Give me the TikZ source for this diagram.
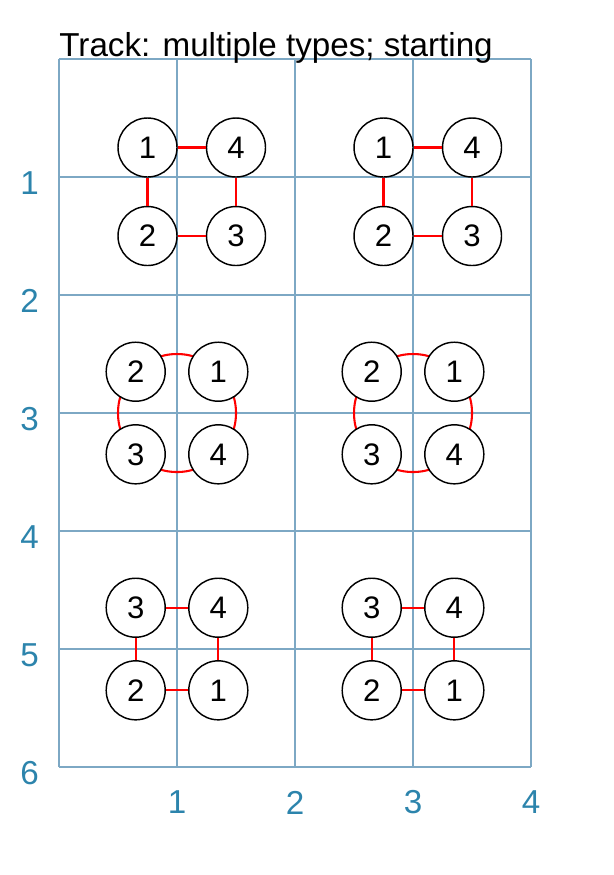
\documentclass[tikz,border=0pt]{standalone}
\usepackage{fontspec}
\setmainfont{Liberation Sans}
\usepackage{xcolor}
\usetikzlibrary{positioning}

\definecolor{gridblue}{RGB}{125,168,196}
\definecolor{axisblue}{RGB}{44,132,172}

\tikzset{
	stone/.style={circle,draw,fill=white,line width=0.7pt,minimum size=1cm,inner sep=0pt,font=\fontsize{15}{15}\selectfont},
	track/.style={red,line width=1pt},
	axislab/.style={text=axisblue,font=\fontsize{16}{16}\selectfont}
}

\begin{document}
\begin{tikzpicture}[scale=2]
	\useasboundingbox (-0.5,0.5) rectangle (4.695,-6.915);
	%
	%  GRID
	%
	\draw[gridblue,line width=0.6pt] (0,0) grid (4,-6);
	\node[anchor=base west,inner sep=0pt,font=\fontsize{16}{16}\selectfont] (T) at (0,0.02) {Track: multiple types; starting};
	\node[axislab] (Y1) at (-0.25,-1.05) {1};
	\node[axislab] (Y2) at (-0.25,-2.05) {2};
	\node[axislab] (Y3) at (-0.25,-3.05) {3};
	\node[axislab] (Y4) at (-0.25,-4.05) {4};
	\node[axislab] (Y5) at (-0.25,-5.05) {5};
	\node[axislab] (Y6) at (-0.25,-6.05) {6};
	\node[axislab] (X1) at (1,-6.3) {1};
	\node[axislab] (X2) at (2,-6.3) {2};
	\node[axislab] (X3) at (3,-6.3) {3};
	\node[axislab] (X4) at (4,-6.3) {4};
	%
	%  ROW 1
	%
	\node[stone] (A1) at (0.75,-0.75) {1};
	\node[stone] (A4) at (1.5,-0.75) {4};
	\node[stone] (A2) at (0.75,-1.5) {2};
	\node[stone] (A3) at (1.5,-1.5) {3};
	\node[stone] (B1) at (2.75,-0.75) {1};
	\node[stone] (B4) at (3.5,-0.75) {4};
	\node[stone] (B2) at (2.75,-1.5) {2};
	\node[stone] (B3) at (3.5,-1.5) {3};
	%
	%  ROW 2
	%
	\coordinate (CC) at (1,-3);
	\coordinate (DC) at (3,-3);
	\draw[track] (CC) circle (0.5);
	\draw[track] (DC) circle (0.5);
	\node[stone] (C2) at (0.65,-2.65) {2};
	\node[stone] (C1) at (1.35,-2.65) {1};
	\node[stone] (C3) at (0.65,-3.35) {3};
	\node[stone] (C4) at (1.35,-3.35) {4};
	\node[stone] (D2) at (2.65,-2.65) {2};
	\node[stone] (D1) at (3.35,-2.65) {1};
	\node[stone] (D3) at (2.65,-3.35) {3};
	\node[stone] (D4) at (3.35,-3.35) {4};
	%
	%  ROW 3
	%
	\node[stone] (E3) at (0.65,-4.65) {3};
	\node[stone] (E4) at (1.35,-4.65) {4};
	\node[stone] (E2) at (0.65,-5.35) {2};
	\node[stone] (E1) at (1.35,-5.35) {1};
	\node[stone] (F3) at (2.65,-4.65) {3};
	\node[stone] (F4) at (3.35,-4.65) {4};
	\node[stone] (F2) at (2.65,-5.35) {2};
	\node[stone] (F1) at (3.35,-5.35) {1};
	%
	\path[track]
	(A1) edge (A4)
	(A4) edge (A3)
	(A3) edge (A2)
	(A2) edge (A1)
	(B1) edge (B4)
	(B4) edge (B3)
	(B3) edge (B2)
	(B2) edge (B1)
	(E3) edge (E4)
	(E4) edge (E1)
	(E1) edge (E2)
	(E2) edge (E3)
	(F3) edge (F4)
	(F4) edge (F1)
	(F1) edge (F2)
	(F2) edge (F3);
\end{tikzpicture}
\end{document}
